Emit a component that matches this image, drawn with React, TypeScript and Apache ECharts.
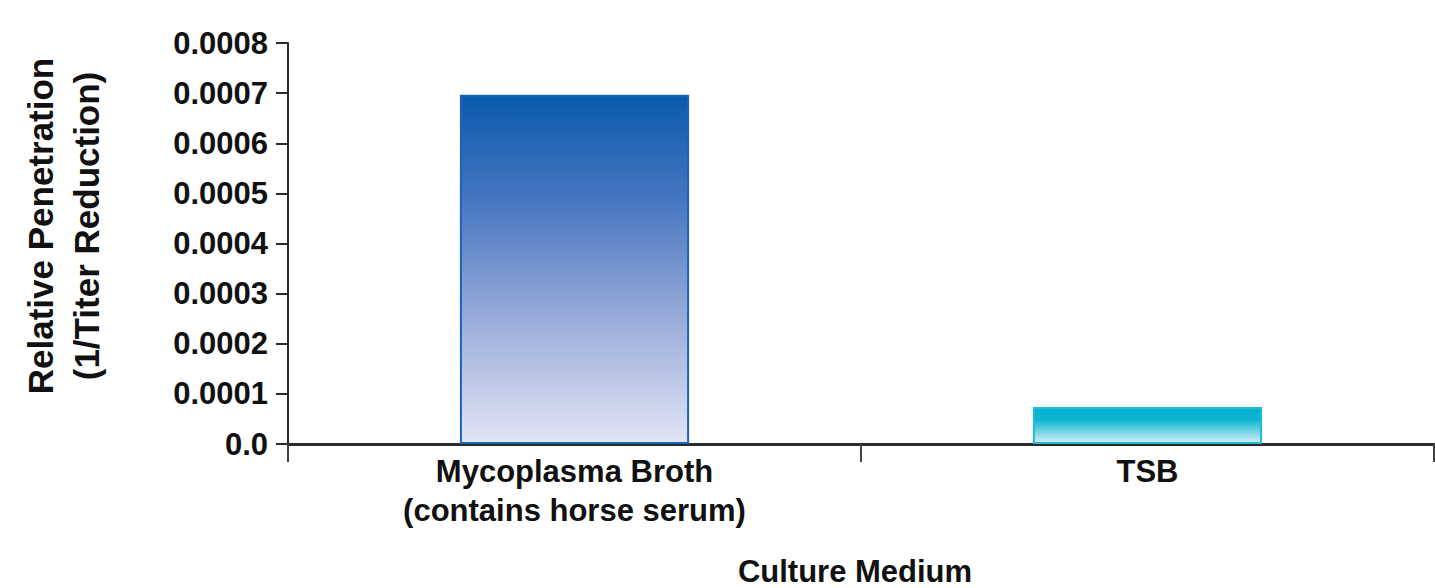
import React, { useEffect, useRef } from "react";
import * as echarts from "echarts";

const categories = ["Mycoplasma Broth\n(contains horse serum)", "TSB"];
const penetration = [0.000697, 0.000074];
const yTicks = { min: 0, max: 0.0008, interval: 0.0001 };
const yAxisTitle = "Relative Penetration\n(1/Titer Reduction)";
const xAxisTitle = "Culture Medium";

const FONT = '"Liberation Sans", Arial, Helvetica, sans-serif';

const barStyles = [
  {
    color: new echarts.graphic.LinearGradient(0, 0, 0, 1, [
      { offset: 0, color: "#0a5aad" },
      { offset: 0.3, color: "#4676c0" },
      { offset: 0.67, color: "#a0b0dc" },
      { offset: 1, color: "#e1e5f4" },
    ]),
    borderColor: "#1a64b8",
    borderWidth: 2,
  },
  {
    color: new echarts.graphic.LinearGradient(0, 0, 0, 1, [
      { offset: 0, color: "#00b1d0" },
      { offset: 0.35, color: "#10b6d3" },
      { offset: 1, color: "#d6f0f6" },
    ]),
    borderColor: "#22bbd7",
    borderWidth: 2,
  },
];

export default function App() {
  const ref = useRef<HTMLDivElement>(null);
  useEffect(() => {
    if (!ref.current) return;
    const chart = echarts.init(ref.current, null, { renderer: "svg" });
    chart.setOption({
      animation: false,
      backgroundColor: "#ffffff",
      grid: { left: 288, right: 1, top: 43, bottom: 144, containLabel: false },
      xAxis: {
        type: "category",
        data: categories,
        boundaryGap: true,
        axisLine: { show: true, lineStyle: { color: "#2b2b2b", width: 3 } },
        axisTick: { show: true, length: 18, alignWithLabel: false, lineStyle: { color: "#444", width: 2 } },
        axisLabel: {
          color: "#111",
          fontFamily: FONT,
          fontWeight: "bold",
          fontSize: 31,
          lineHeight: 39,
          margin: 8,
          interval: 0,
        },
      },
      yAxis: {
        type: "value",
        min: yTicks.min,
        max: yTicks.max,
        interval: yTicks.interval,
        splitLine: { show: false },
        axisLine: { show: true, lineStyle: { color: "#2b2b2b", width: 2 } },
        axisTick: { show: true, length: 12, lineStyle: { color: "#2b2b2b", width: 2 } },
        axisLabel: {
          color: "#111",
          fontFamily: FONT,
          fontWeight: "bold",
          fontSize: 31,
          margin: 20,
          formatter: (v: number) => (v === 0 ? "0.0" : v.toFixed(4)),
        },
      },
      graphic: [
        {
          type: "text",
          x: 63,
          y: 226,
          rotation: Math.PI / 2,
          style: {
            text: yAxisTitle,
            fontFamily: FONT,
            fontWeight: "bold",
            fontSize: 35,
            lineHeight: 46,
            fill: "#111",
            align: "center",
            verticalAlign: "middle",
          },
        },
        {
          type: "text",
          x: 855,
          y: 571,
          style: {
            text: xAxisTitle,
            fontFamily: FONT,
            fontWeight: "bold",
            fontSize: 31,
            lineHeight: 31,
            fill: "#111",
            align: "center",
            verticalAlign: "middle",
          },
        },
      ],
      series: [
        {
          type: "bar",
          barWidth: "40%",
          data: penetration.map((v, i) => ({ value: v, itemStyle: barStyles[i] })),
        },
      ],
    });
    return () => chart.dispose();
  }, []);
  return <div ref={ref} style={{ position: "fixed", left: 0, top: 0, width: 1435, height: 588 }} />;
}
